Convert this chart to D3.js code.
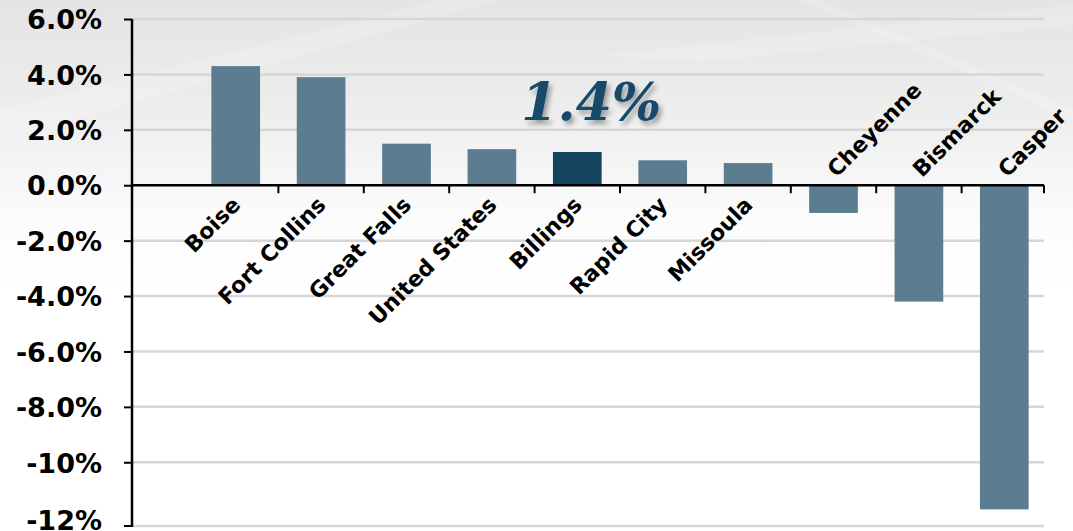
<!DOCTYPE html>
<html>
<head>
<meta charset="utf-8">
<script src="https://cdn.jsdelivr.net/npm/d3@7/dist/d3.min.js"></script>
<style>
  html, body { margin: 0; padding: 0; background: #fff; }
  svg { display: block; }
</style>
</head>
<body>
<svg id="chart" width="1073" height="531"></svg>
<script>
// ---- data ----
const categories = ["Boise", "Fort Collins", "Great Falls", "United States", "Billings",
                    "Rapid City", "Missoula", "Cheyenne", "Bismarck", "Casper"];
const values = [4.3, 3.9, 1.5, 1.3, 1.2, 0.9, 0.8, -1.0, -4.2, -11.7];
const highlight = ["Billings"];
const yTickValues = [6, 4, 2, 0, -2, -4, -6, -8, -10, -12];
const yTickLabels = ["6.0%", "4.0%", "2.0%", "0.0%", "-2.0%", "-4.0%", "-6.0%", "-8.0%", "-10%", "-12%"];
const annotation = "1.4%";

// ---- layout ----
const W = 1073, H = 531;
const svg = d3.select("#chart");
const defs = svg.append("defs");

const bg = defs.append("linearGradient").attr("id", "bg")
  .attr("x1", 0).attr("y1", 0).attr("x2", 0).attr("y2", 1);
bg.append("stop").attr("offset", "0%").attr("stop-color", "#e4e4e4");
bg.append("stop").attr("offset", "22%").attr("stop-color", "#eeeeee");
bg.append("stop").attr("offset", "40%").attr("stop-color", "#fbfbfb");
bg.append("stop").attr("offset", "55%").attr("stop-color", "#ffffff");
bg.append("stop").attr("offset", "100%").attr("stop-color", "#ffffff");

const sh = defs.append("filter").attr("id", "shadow")
  .attr("x", "-20%").attr("y", "-20%").attr("width", "140%").attr("height", "160%");
sh.append("feDropShadow").attr("dx", 3).attr("dy", 4).attr("stdDeviation", 2.5)
  .attr("flood-color", "#000").attr("flood-opacity", 0.35);

svg.append("rect").attr("width", W).attr("height", H).attr("fill", "url(#bg)");
// faint light streaks in background
const streaks = [
  [[0, 110], [440, 0], [500, 0], [0, 140]],
  [[600, 55], [1073, 5], [1073, 25], [700, 62]],
  [[820, 0], [1073, 110], [1073, 120], [800, 0]]
];
svg.selectAll("polygon.streak").data(streaks).join("polygon")
  .attr("class", "streak")
  .attr("points", d => d.map(p => p.join(",")).join(" "))
  .attr("fill", "#ffffff").attr("opacity", 0.18);

const axisX0 = 132, axisX1 = 1044;
const y = d3.scaleLinear().domain([-12.3, 6]).range([526, 19]);
const x = d3.scaleBand().domain(categories).range([193, 1047]).paddingInner(0.43).paddingOuter(0.215);

// gridlines
svg.append("g").selectAll("line").data(yTickValues.filter(v => v !== 0)).join("line")
  .attr("x1", axisX0).attr("x2", axisX1)
  .attr("y1", d => d === -12 ? 526 : y(d)).attr("y2", d => d === -12 ? 526 : y(d))
  .attr("stroke", "#d6d6d6").attr("stroke-width", 2.5);

// bars
svg.append("g").selectAll("rect").data(categories).join("rect")
  .attr("x", d => x(d))
  .attr("width", x.bandwidth())
  .attr("y", (d, i) => y(Math.max(0, values[i])))
  .attr("height", (d, i) => Math.abs(y(values[i]) - y(0)))
  .attr("fill", d => highlight.includes(d) ? "#15435f" : "#5c7c90");

// y axis
const yAxis = d3.axisLeft(y)
  .tickValues(yTickValues)
  .tickSize(8)
  .tickFormat((d, i) => yTickLabels[i]);
const gy = svg.append("g").attr("transform", `translate(${axisX0},0)`).call(yAxis);
gy.select(".domain").remove();
gy.selectAll(".tick").filter(d => d === -12).attr("transform", "translate(0,526)");
gy.selectAll(".tick line").attr("stroke", "#000").attr("stroke-width", 2);
gy.selectAll(".tick text")
  .attr("x", -30)
  .attr("dy", "0.36em")
  .style("font-family", "'DejaVu Sans', sans-serif")
  .style("font-size", "27px")
  .style("font-weight", "bold")
  .attr("fill", "#000");
gy.selectAll(".tick").filter(d => d === -12).select("text").attr("transform", "translate(0,-6)");
svg.append("line").attr("x1", axisX0).attr("x2", axisX0).attr("y1", 19).attr("y2", 527)
  .attr("stroke", "#000").attr("stroke-width", 2.5);

// x axis
svg.append("line").attr("x1", axisX0).attr("x2", axisX1).attr("y1", y(0)).attr("y2", y(0))
  .attr("stroke", "#000").attr("stroke-width", 2.5);
const boundaries = categories.slice(1).map(c => x(c) - x.step() * x.paddingInner() / 2).concat([axisX1]);
svg.append("g").selectAll("line").data(boundaries).join("line")
  .attr("x1", d => d).attr("x2", d => d)
  .attr("y1", y(0)).attr("y2", y(0) + 8)
  .attr("stroke", "#000").attr("stroke-width", 2);

// category labels
svg.append("g").selectAll("text").data(categories).join("text")
  .attr("transform", (d, i) => {
    const cx = x(d) + x.bandwidth() / 2;
    return values[i] >= 0
      ? `translate(${cx + 6},${y(0) + 21}) rotate(-45)`
      : `translate(${cx + 3},${y(0) - 7}) rotate(-45)`;
  })
  .attr("text-anchor", (d, i) => values[i] >= 0 ? "end" : "start")
  .style("font-family", "'DejaVu Sans', sans-serif")
  .style("font-size", "22px")
  .style("font-weight", "bold")
  .attr("fill", "#000")
  .text(d => d);

// annotation
svg.append("text")
  .attr("x", x("Billings") + x.bandwidth() / 2 + 14)
  .attr("y", 120)
  .attr("text-anchor", "middle")
  .style("font-family", "'DejaVu Serif', serif")
  .style("font-size", "52px")
  .style("font-style", "italic")
  .style("font-weight", "bold")
  .attr("fill", "#17486b")
  .attr("filter", "url(#shadow)")
  .text(annotation);
</script>
</body>
</html>
